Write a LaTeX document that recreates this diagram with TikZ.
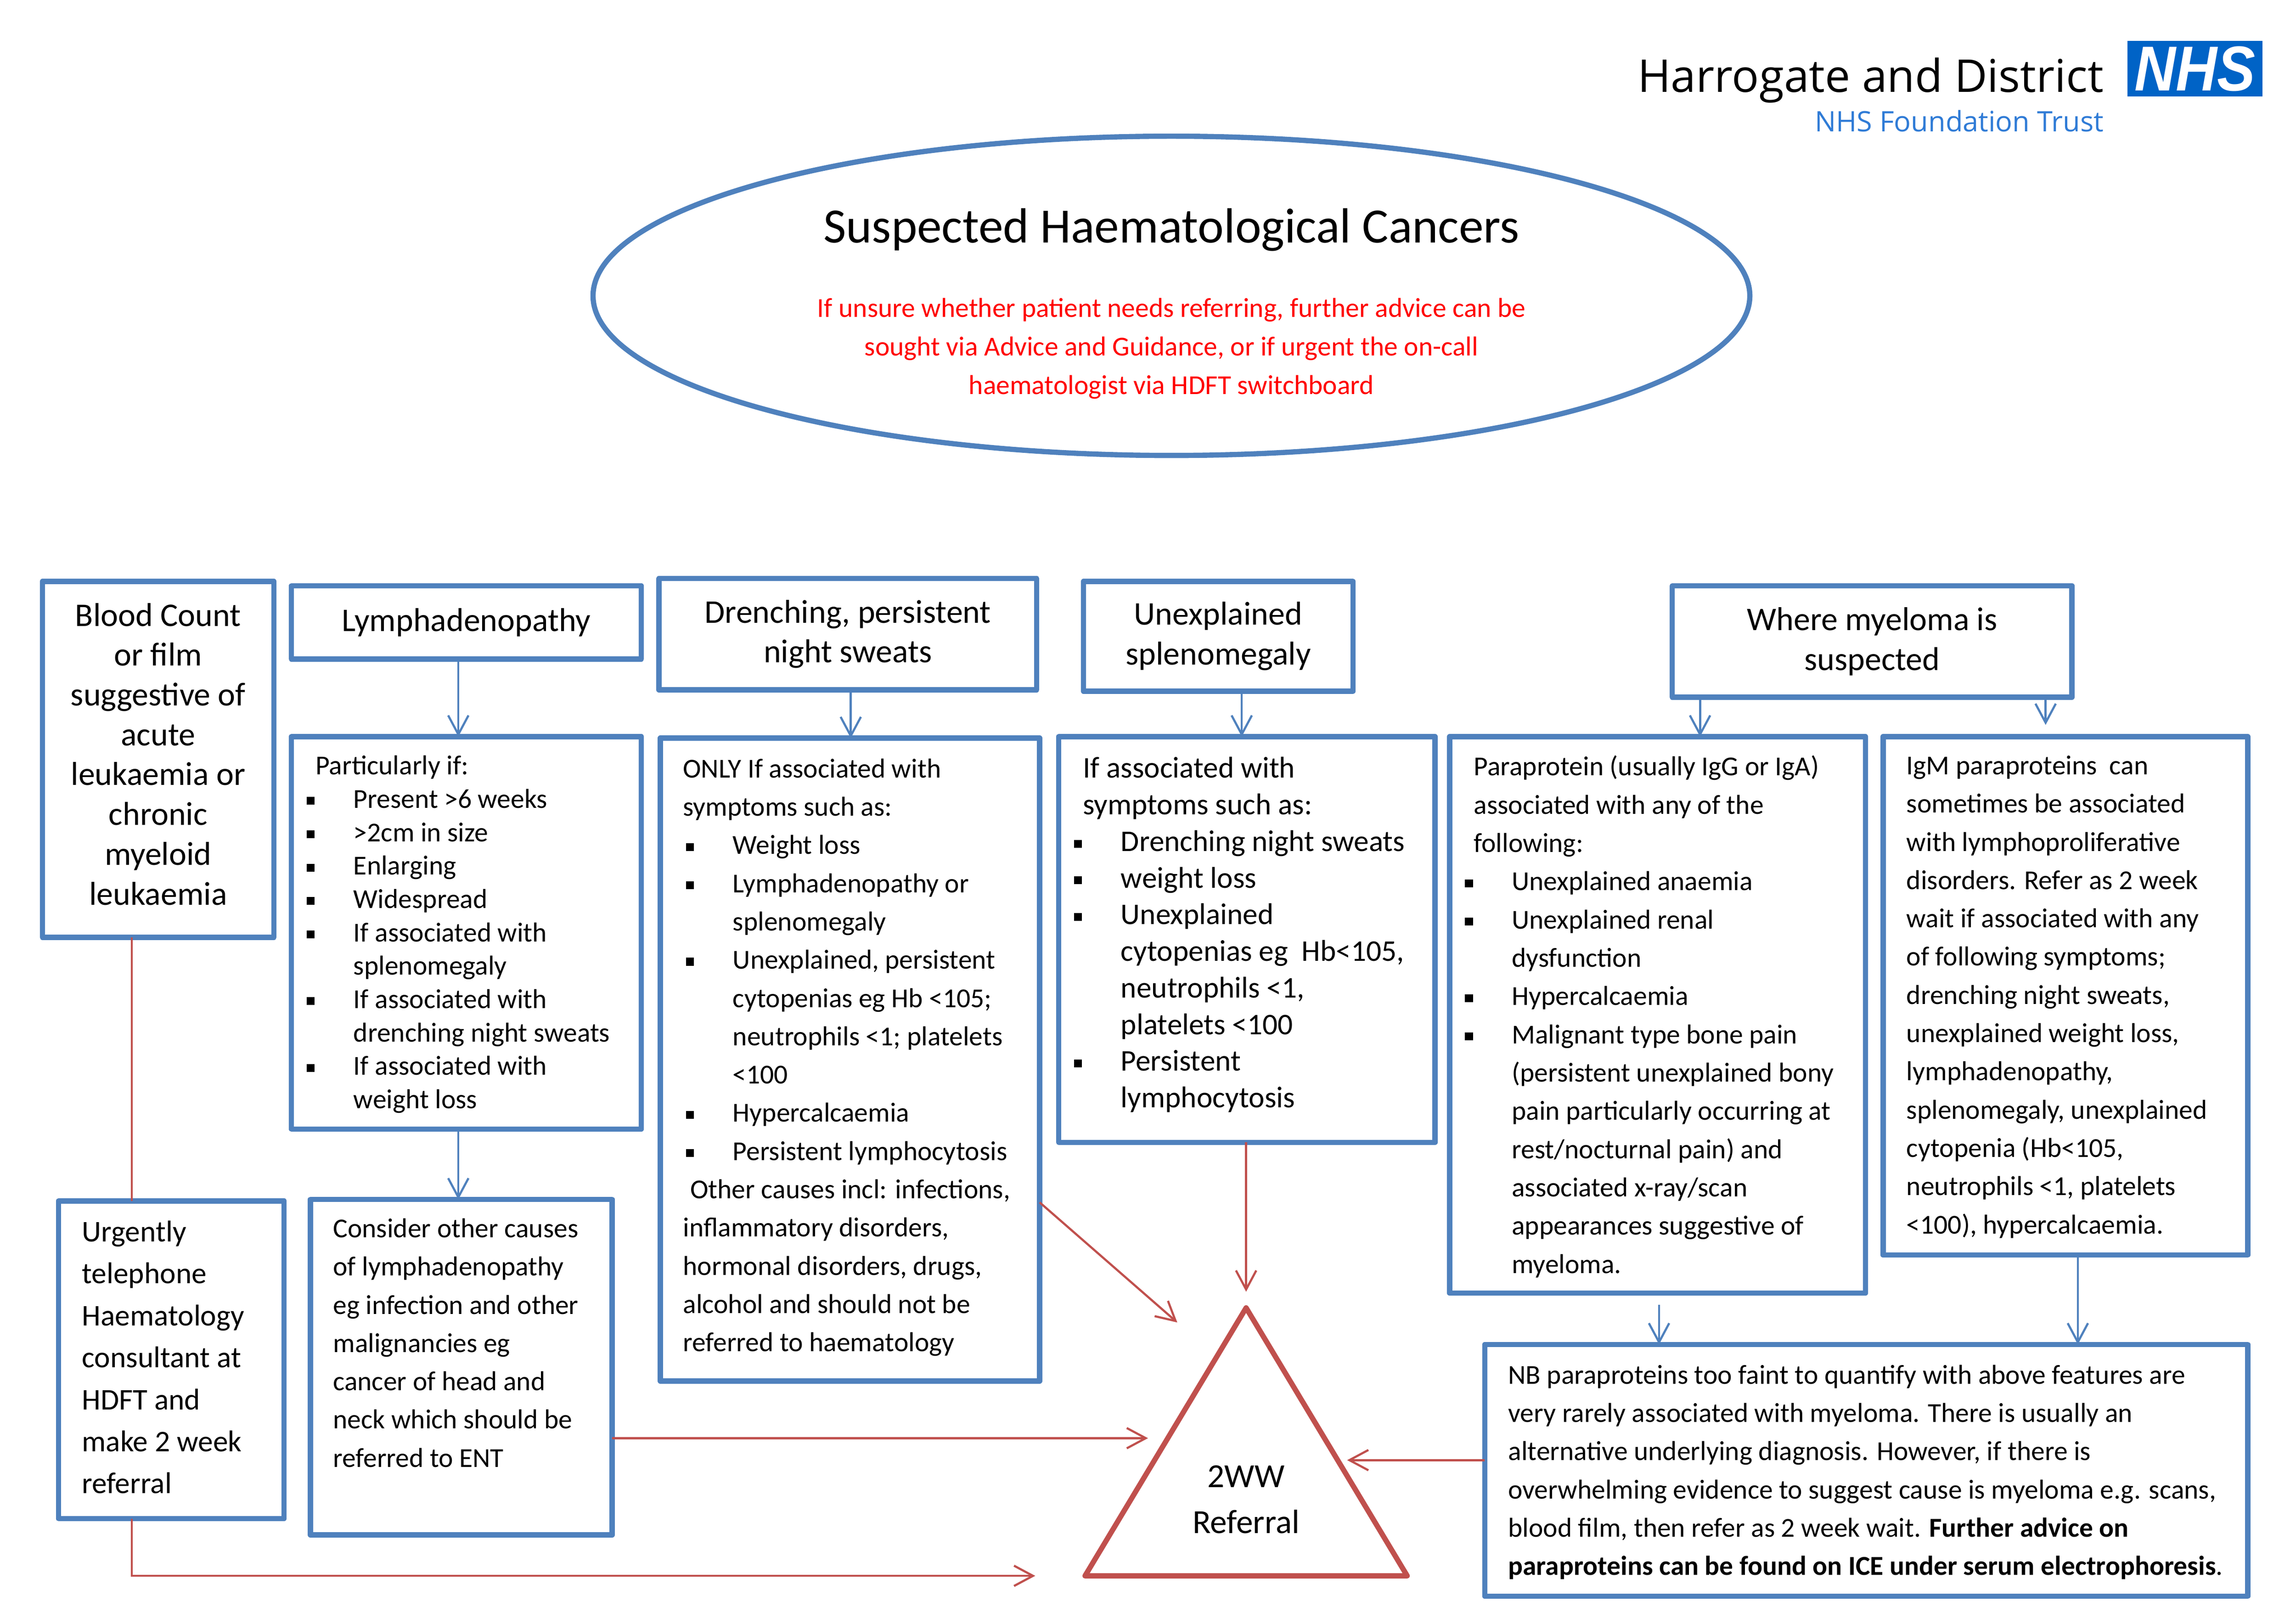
\documentclass[tikz,border=0pt]{standalone}
\usepackage{fontspec}
\setmainfont{Carlito}
\newfontfamily\logofont{Open Sans}
\newfontfamily\nhsfont[FakeStretch=.9]{Liberation Sans}
\usetikzlibrary{arrows.meta}
\usetikzlibrary{fit}
\usetikzlibrary{shapes.geometric}

\definecolor{panelblue}{HTML}{4F81BD}
\definecolor{referred}{HTML}{C0504D}
\definecolor{nhsblue}{HTML}{0063C6}
\definecolor{trustblue}{HTML}{2F7BD6}

\def\ux{.44745pt}
\newlength{\listindent}
\setlength{\listindent}{14.3pt}
\newcommand{\itm}{\makebox[\listindent][l]{\rule[.12em]{2.4pt}{2.4pt}}}
\newcommand{\cnt}{\hspace*{\listindent}}
\newcommand{\hdg}[1]{\hspace*{#1pt}}

\tikzset{
 panel/.style={draw=panelblue, line width=1.6pt, line join=round, inner sep=0pt, outer sep=0pt, align=center},
 titletext/.style={font=\fontsize{10.1}{12.17}\selectfont},
 listtext/.style={anchor=north west, inner sep=0pt, outer sep=0pt, align=left},
 smalltext/.style={font=\fontsize{8.36}{11.69}\selectfont},
 bluearrow/.style={draw=panelblue, line width=.65pt, -{Straight Barb[length=5.8pt,width=6.2pt]}},
 redarrow/.style={draw=referred, line width=.65pt, -{Straight Barb[length=5.8pt,width=6.2pt]}},
 redline/.style={draw=referred, line width=.65pt},
}

\begin{document}
\begin{tikzpicture}[x=\ux, y=-\ux]
\useasboundingbox (0,0) rectangle (1568,1108.7);

% logo
\node (trustname) [anchor=base east, inner sep=0, font=\logofont\fontsize{13.8}{16}\selectfont] at (1437,63) {Harrogate and District};
\node (trustsub) [anchor=base east, inner sep=0, text=trustblue, font=\logofont\fontsize{8.6}{11}\selectfont] at (1437,90) {NHS Foundation Trust};
\node (nhslogo) [fill=nhsblue, inner sep=0, outer sep=0, text=white, minimum width=92*\ux, minimum height=38*\ux, font=\nhsfont\bfseries\itshape\fontsize{19.4}{20}\selectfont] at (1499,47) {NHS};

% heading
\node (head) [ellipse, draw=panelblue, line width=1.6pt, inner sep=0pt, outer sep=0pt, minimum width=790*\ux, minimum height=218*\ux] at (800,202) {};
\node (title) [inner sep=0, font=\fontsize{15.08}{18}\selectfont] at (800,157) {Suspected Haematological Cancers};
\node (advice) [inner sep=0, text=red, align=center, font=\fontsize{8.36}{11.8}\selectfont] at (800,238) {If unsure whether patient needs referring, further advice can be\\sought via Advice and Guidance, or if urgent the on-call\\haematologist via HDFT switchboard};

% top row
\node (blood) [panel, titletext, minimum width=158*\ux, minimum height=243*\ux] at (108,518.5) {Blood Count\\or film\\suggestive of\\acute\\leukaemia or\\chronic\\myeloid\\leukaemia\\[-8.87pt]\mbox{}};
\node (lymph) [panel, titletext, minimum width=239*\ux, minimum height=50*\ux] at (318.5,425) {Lymphadenopathy};
\node (drench) [panel, titletext, minimum width=258*\ux, minimum height=76*\ux] at (579,433) {Drenching, persistent\\night sweats};
\node (spleno) [panel, titletext, minimum width=184*\ux, minimum height=75*\ux] at (832,434.5) {Unexplained\\splenomegaly};
\node (myeloma) [panel, titletext, minimum width=273*\ux, minimum height=76*\ux] at (1278.5,438) {Where myeloma is\\suspected};

% lists
\node (lymphlist) [panel, fit={(199,503) (438,771)}] {};
\node (lymphtext) [listtext, font=\fontsize{8.36}{10.2}\selectfont] at (209.5,516) {\hdg{2.7}Particularly if:\\
\itm Present >6 weeks\\
\itm >2cm in size\\
\itm Enlarging\\
\itm Widespread\\
\itm If associated with\\
\cnt splenomegaly\\
\itm If associated with\\
\cnt drenching night sweats\\
\itm If associated with\\
\cnt weight loss};
\node (drenchlist) [panel, fit={(451,504) (710,943)}] {};
\node (drenchtext) [listtext, smalltext] at (468.5,518) {\hdg{-.9}ONLY If associated with\\
\hdg{-.9}symptoms such as:\\
\itm Weight loss\\
\itm Lymphadenopathy or\\
\cnt splenomegaly\\
\itm Unexplained, persistent\\
\cnt cytopenias eg Hb <105;\\
\cnt neutrophils <1; platelets\\
\cnt <100\\
\itm Hypercalcaemia\\
\itm Persistent lymphocytosis\\
\hdg{1.3}Other causes incl: infections,\\
\hdg{-.9}inflammatory disorders,\\
\hdg{-.9}hormonal disorders, drugs,\\
\hdg{-.9}alcohol and should not be\\
\hdg{-.9}referred to haematology};
\node (splenolist) [panel, fit={(723,503) (980,780)}] {};
\node (splenotext) [listtext, font=\fontsize{9.17}{11.19}\selectfont] at (733.5,517) {\hdg{2.7}If associated with\\
\hdg{2.7}symptoms such as:\\
\itm Drenching night sweats\\
\itm weight loss\\
\itm Unexplained\\
\cnt cytopenias eg\ \ Hb<105,\\
\cnt neutrophils <1,\\
\cnt platelets <100\\
\itm Persistent\\
\cnt lymphocytosis};
\node (paralist) [panel, fit={(990,503) (1274,883)}] {};
\node (paratext) [listtext, smalltext] at (1000.5,516) {\hdg{2.7}Paraprotein (usually IgG or IgA)\\
\hdg{2.7}associated with any of the\\
\hdg{2.7}following:\\
\itm Unexplained anaemia\\
\itm Unexplained renal\\
\cnt dysfunction\\
\itm Hypercalcaemia\\
\itm Malignant type bone pain\\
\cnt (persistent unexplained bony\\
\cnt pain particularly occurring at\\
\cnt rest/nocturnal pain) and\\
\cnt associated x-ray/scan\\
\cnt appearances suggestive of\\
\cnt myeloma.};
\node (igmlist) [panel, fit={(1286,503) (1535,857)}] {};
\node (igmtext) [listtext, smalltext] at (1302,516) {IgM paraproteins\ \ can\\
sometimes be associated\\
with lymphoproliferative\\
disorders. Refer as 2 week\\
wait if associated with any\\
of following symptoms;\\
drenching night sweats,\\
unexplained weight loss,\\
lymphadenopathy,\\
splenomegaly, unexplained\\
cytopenia (Hb<105,\\
neutrophils <1, platelets\\
<100), hypercalcaemia.};

% bottom row
\node (urgent) [panel, fit={(40,820) (194,1037)}] {};
\node (urgenttext) [listtext, font=\fontsize{9.18}{12.83}\selectfont] at (56,833.5) {Urgently\\telephone\\Haematology\\consultant at\\HDFT and\\make 2 week\\referral};
\node (consider) [panel, fit={(212,819) (418,1048)}] {};
\node (considertext) [listtext, smalltext] at (227.5,832) {Consider other causes\\of lymphadenopathy\\eg infection and other\\malignancies eg\\cancer of head and\\neck which should be\\referred to ENT};
\node (nbnote) [panel, fit={(1014,918) (1535,1090)}] {};
\node (nbtext) [listtext, smalltext] at (1030,932) {NB paraproteins too faint to quantify with above features are\\
very rarely associated with myeloma. There is usually an\\
alternative underlying diagnosis. However, if there is\\
overwhelming evidence to suggest cause is myeloma e.g. scans,\\
blood film, then refer as 2 week wait. \textbf{Further advice on}\\
\textbf{paraproteins can be found on ICE under serum electrophoresis}.};

% triangle
\coordinate (apex) at (851,893);
\coordinate (baseleft) at (741,1076);
\coordinate (baseright) at (961,1076);
\draw[draw=referred, line width=1.6pt, line join=round] (apex)--(baseright)--(baseleft)--cycle;
\node (wwtext) [inner sep=0, align=center, font=\fontsize{10.3}{14}\selectfont] at (851,1024) {2WW\\Referral};

% blue arrows
\foreach \a/\b/\x in {lymph/lymphlist/313, drench/drenchlist/581, spleno/splenolist/848, myeloma/paralist/1161, lymphlist/consider/313, igmlist/nbnote/1419} {
 \draw[bluearrow] (\a.south -| \x,0) -- (\b.north -| \x,0);
}
\coordinate (igmin) at (1397,495);
\coordinate (nbfrom) at (1133,891);
\draw[bluearrow] (myeloma.south -| igmin) -- (igmin);
\draw[bluearrow] (nbfrom) -- (nbfrom |- nbnote.north);

% red arrows
\coordinate (wwleft) at (784,982);
\coordinate (wwright) at (920,997);
\coordinate (wwtop) at (851,882);
\coordinate (wwdiag) at (804,903);
\coordinate (wwlow) at (707,1076);
\draw[redline] (blood.south -| 90,0) -- (urgent.north -| 90,0);
\draw[redarrow] (urgent.south -| 90,0) -- (90,1076) -- (wwlow);
\draw[redarrow] (consider.east |- wwleft) -- (wwleft);
\draw[redarrow] (drenchlist.east |- 0,821) -- (wwdiag);
\draw[redarrow] (splenolist.south -| wwtop) -- (wwtop);
\draw[redarrow] (nbnote.west |- wwright) -- (wwright);
\end{tikzpicture}
\end{document}
